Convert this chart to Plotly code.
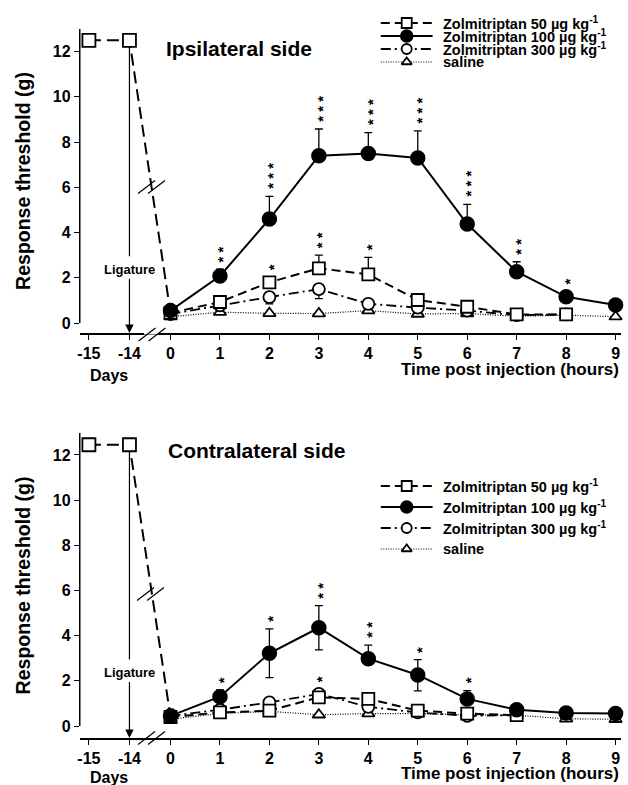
import plotly.graph_objects as go

W, H = 628, 785
FONT = "Liberation Sans, Arial, sans-serif"

# ---------------- data ----------------
hours = [0, 1, 2, 3, 4, 5, 6, 7, 8, 9]
pre_days = [-15, -14]
x_tick_labels = ["-15", "-14", "0", "1", "2", "3", "4", "5", "6", "7", "8", "9"]
y_ticks = [0, 2, 4, 6, 8, 10, 12]

# Ipsilateral side
ipsi_pre = [12.5, 12.5]
ipsi_50 = [0.45, 0.93, 1.8, 2.42, 2.15, 1.02, 0.72, 0.38, 0.38]
ipsi_50_up = [0, 0, 0, 0.58, 0.75, 0, 0, 0, 0]
ipsi_100 = [0.55, 2.08, 4.6, 7.4, 7.5, 7.3, 4.38, 2.27, 1.16, 0.8]
ipsi_100_up = [0, 0.3, 1.0, 1.18, 0.92, 1.2, 0.87, 0.44, 0.15, 0]
ipsi_300 = [0.4, 0.78, 1.15, 1.5, 0.85, 0.68, 0.55, 0.35, 0.38]
ipsi_300_down = [0, 0, 0.3, 0.42, 0.1, 0, 0, 0, 0]
ipsi_saline = [0.28, 0.48, 0.43, 0.42, 0.55, 0.4, 0.42, 0.3, 0.35, 0.28]
ipsi_stars = [(1, "100", 2), (2, "100", 3), (2, "50", 1), (3, "100", 3), (3, "50", 2),
              (4, "100", 3), (4, "50", 1), (5, "100", 3), (6, "100", 3), (7, "100", 2),
              (8, "100", 1)]

# Contralateral side
contra_pre = [12.45, 12.45]
contra_50 = [0.4, 0.6, 0.68, 1.27, 1.2, 0.68, 0.55, 0.48]
contra_50_up = [0, 0, 0, 0, 0, 0, 0, 0]
contra_100 = [0.45, 1.3, 3.22, 4.35, 2.98, 2.26, 1.2, 0.72, 0.58, 0.55]
contra_100_up = [0, 0.3, 1.08, 0.98, 0.6, 0.68, 0.37, 0, 0, 0]
contra_100_down = [0, 0, 1.08, 0.98, 0, 0.7, 0, 0, 0, 0]
contra_300 = [0.45, 0.72, 1.05, 1.42, 0.85, 0.6, 0.45, 0.48]
contra_300_down = [0, 0, 0, 0, 0, 0, 0, 0]
contra_saline = [0.3, 0.55, 0.65, 0.5, 0.55, 0.55, 0.5, 0.48, 0.32, 0.3]
contra_stars = [(1, "100", 1), (2, "100", 1), (3, "100", 2), (3, "300", 1),
                (4, "100", 2), (5, "100", 1), (6, "100", 1)]

legend_names = ["Zolmitriptan 50 µg kg<sup>-1</sup>", "Zolmitriptan 100 µg kg<sup>-1</sup>",
                "Zolmitriptan 300 µg kg<sup>-1</sup>", "saline"]


# ---------------- layout helpers ----------------
def day_pos(d):
    return -0.83 + (d + 14) * 0.82


x_tick_vals = [day_pos(d) for d in pre_days] + hours
X_RANGE = [-1.835, 9.11]
X_DOM = [78 / W, 621 / W]

STY = {
    "50": dict(symbol="square", size=12, color="white", dash="9px,5px", width=2, mline=1.8),
    "100": dict(symbol="circle", size=14, color="black", dash="solid", width=2, mline=1.5),
    "300": dict(symbol="circle", size=12, color="white", dash="10px,4px,2px,4px", width=1.8, mline=1.8),
    "sal": dict(symbol="triangle-up", size=11, color="white", dash="1px,1.5px", width=1.2, mline=1.8),
}

STAR_SIZE = 15
STAR_GAP = 10.5

fig = go.Figure()
annotations = []
shapes = []


def add_series(xa, ya, xs, ys, key, up=None, down=None):
    s = STY[key]
    tr = go.Scatter(
        x=xs, y=ys, xaxis=xa, yaxis=ya, mode="lines+markers", showlegend=False,
        line=dict(color="black", width=s["width"], dash=s["dash"]),
        marker=dict(symbol=s["symbol"], size=s["size"], color=s["color"], opacity=1,
                    line=dict(color="black", width=s["mline"])),
        cliponaxis=False,
    )
    if up is not None or down is not None:
        n = len(ys)
        tr.error_y = dict(type="data", symmetric=False,
                          array=up if up is not None else [0] * n,
                          arrayminus=down if down is not None else [0] * n,
                          color="black", thickness=1.3, width=4)
    fig.add_trace(tr)


def panel(xa, ya, yr, ppu, pre, s50, s50u, s100, s100u, s100d, s300, s300d, sal, stars):
    # pre-injection baseline and drop to the first post-injection point
    fig.add_trace(go.Scatter(
        x=[day_pos(d) for d in pre_days] + [0], y=pre + [s50[0]], xaxis=xa, yaxis=ya,
        mode="lines+markers", showlegend=False,
        line=dict(color="black", width=2, dash="12px,6px"),
        marker=dict(symbol="square", size=[13, 13, 0], color="white", opacity=1,
                    line=dict(color="black", width=1.8)),
        cliponaxis=False,
    ))
    add_series(xa, ya, hours[:len(sal)], sal, "sal")
    add_series(xa, ya, hours[:len(s300)], s300, "300", up=[0] * len(s300), down=s300d)
    add_series(xa, ya, hours[:len(s50)], s50, "50", up=s50u)
    add_series(xa, ya, hours[:len(s100)], s100, "100", up=s100u, down=s100d)

    # significance asterisks: one vertical stack per point (rotated text)
    vals = {"50": (s50, s50u), "100": (s100, s100u), "300": (s300, [0] * len(s300))}
    for h, key, n in stars:
        v, u = vals[key]
        base = max(u[h] * ppu + 10, 15)
        annotations.append(dict(
            x=h, y=v[h], xref=xa, yref=ya, text=" ".join("*" * n), showarrow=False,
            textangle=-90, xanchor="center", yanchor="middle",
            yshift=base + (n - 1) * STAR_GAP / 2, xshift=3.5,
            font=dict(family=FONT, size=STAR_SIZE, color="black", weight="bold")))

    # y-axis line (from 0 to the top of the axis)
    shapes.append(dict(type="line", xref=xa + " domain", yref=ya, x0=0, x1=0, y0=0, y1=yr[1],
                       line=dict(color="black", width=1.5)))

    # ligature arrow
    xl = day_pos(-14)
    shapes.append(dict(type="line", xref=xa, yref=ya, x0=xl, x1=xl, y0=pre[1], y1=2.95,
                       line=dict(color="black", width=1.2), layer="below"))
    annotations.append(dict(
        x=xl, y=yr[0], xref=xa, yref=ya, ax=xl, ay=2.35, axref=xa, ayref=ya,
        text="Ligature", showarrow=True, arrowhead=2, arrowsize=1.4, arrowwidth=1.2,
        arrowcolor="black", standoff=0, startstandoff=0,
        font=dict(family=FONT, size=13, color="black", weight="bold")))


def axis_x(dom, anchor):
    return dict(domain=dom, range=X_RANGE, anchor=anchor, showgrid=False, zeroline=False,
                showline=True, linecolor="black", linewidth=1.5, ticks="outside",
                ticklen=5, tickwidth=1.3, tickcolor="black",
                tickmode="array", tickvals=x_tick_vals, ticktext=x_tick_labels,
                tickfont=dict(family=FONT, size=16, color="black", weight="bold"))


def axis_y(dom, rng, anchor):
    return dict(domain=dom, range=rng, anchor=anchor, showgrid=False, zeroline=False,
                showline=False, ticks="outside",
                ticklen=5, tickwidth=1.3, tickcolor="black",
                tickmode="array", tickvals=y_ticks,
                tickfont=dict(family=FONT, size=16, color="black", weight="bold"),
                title=dict(text="Response threshold (g)", standoff=16,
                           font=dict(family=FONT, size=19.5, color="black", weight="bold")))


# panel geometry in pixels
TOP_Y = (29, 333)
BOT_Y = (433, 738)
top_range = [-0.44, 13.0]
bot_range = [-0.53, 12.97]
top_ppu = (TOP_Y[1] - TOP_Y[0]) / (top_range[1] - top_range[0])
bot_ppu = (BOT_Y[1] - BOT_Y[0]) / (bot_range[1] - bot_range[0])

panel("x", "y", top_range, top_ppu, ipsi_pre, ipsi_50, ipsi_50_up, ipsi_100, ipsi_100_up,
      None, ipsi_300, ipsi_300_down, ipsi_saline, ipsi_stars)
panel("x2", "y2", bot_range, bot_ppu, contra_pre, contra_50, contra_50_up, contra_100,
      contra_100_up, contra_100_down, contra_300, contra_300_down, contra_saline, contra_stars)


# ---------------- overlay (pixel coordinates) ----------------
def px_text(x, y, text, size, xanchor="left", weight="bold"):
    annotations.append(dict(x=x, y=y, xref="x3", yref="y3", text=text, showarrow=False,
                            xanchor=xanchor, yanchor="middle",
                            font=dict(family=FONT, size=size, color="black", weight=weight)))


px_text(163, 48, "Ipsilateral side", 21)
px_text(165, 450, "Contralateral side", 21)
px_text(107, 375, "Days", 16, xanchor="center")
px_text(107, 777, "Days", 16, xanchor="center")
px_text(621, 369, "Time post injection (hours)", 17, xanchor="right")
px_text(621, 773, "Time post injection (hours)", 17, xanchor="right")

# axis-break marks (with a gap in the x-axis line)
for cx, cy, on_axis in [(150, 187, False), (150.5, 334.5, True), (149, 594, False), (150, 738, True)]:
    if on_axis:
        shapes.append(dict(type="line", xref="x3", yref="y3", x0=cx - 8, x1=cx + 6,
                           y0=cy - 1.5, y1=cy - 1.5, line=dict(color="white", width=3)))
    for dx in (-13.5, -3.5):
        shapes.append(dict(type="line", xref="x3", yref="y3", x0=cx + dx, y0=cy + 6.5,
                           x1=cx + dx + 17, y1=cy - 6.5, line=dict(color="black", width=1.2)))

# legends
legend_keys = ["50", "100", "300", "sal"]
for rows in ([23, 36, 49, 62], [486, 507, 528, 549]):
    for key, name, yy in zip(legend_keys, legend_names, rows):
        s = STY[key]
        fig.add_trace(go.Scatter(
            x=[380, 406, 432], y=[yy, yy, yy], xaxis="x3", yaxis="y3", mode="lines+markers",
            showlegend=False, hoverinfo="skip",
            line=dict(color="black", width=s["width"], dash=s["dash"]),
            marker=dict(symbol=s["symbol"], size=[0, s["size"] - 2, 0], color=s["color"],
                        opacity=1, line=dict(color="black", width=s["mline"])),
            cliponaxis=False))
        px_text(440, yy, name, 14.5)

fig.update_layout(
    width=W, height=H, margin=dict(l=0, r=0, t=0, b=0),
    paper_bgcolor="white", plot_bgcolor="rgba(0,0,0,0)",
    xaxis=axis_x(X_DOM, "y"),
    yaxis=axis_y([(H - TOP_Y[1]) / H, (H - TOP_Y[0]) / H], top_range, "x"),
    xaxis2=axis_x(X_DOM, "y2"),
    yaxis2=axis_y([(H - BOT_Y[1]) / H, (H - BOT_Y[0]) / H], bot_range, "x2"),
    xaxis3=dict(domain=[0, 1], range=[0, W], anchor="y3", visible=False),
    yaxis3=dict(domain=[0, 1], range=[H, 0], anchor="x3", visible=False),
    annotations=annotations, shapes=shapes, font=dict(family=FONT, color="black"),
)

fig.write_html("out.html")
